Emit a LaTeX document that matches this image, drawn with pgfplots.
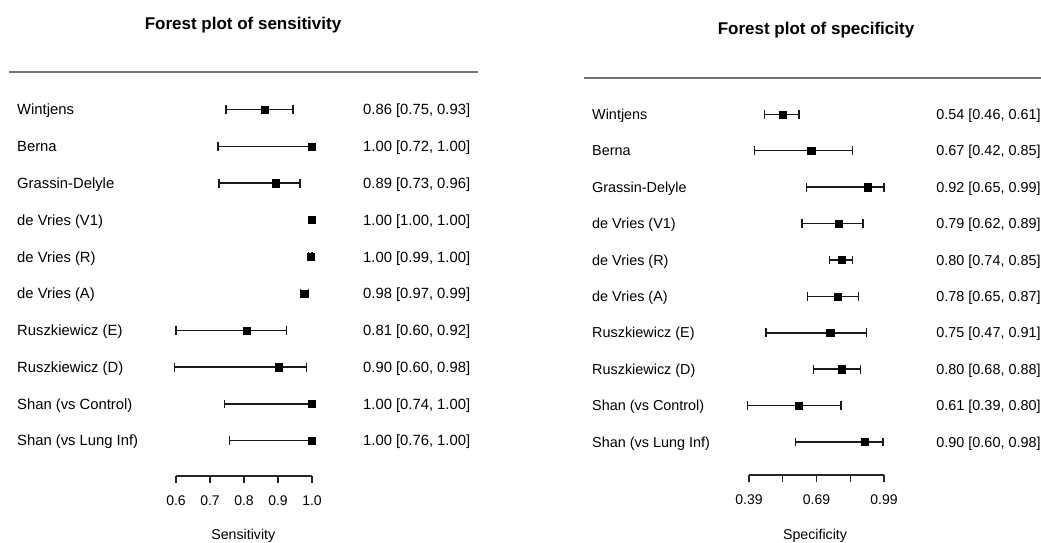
\documentclass[border=0pt]{standalone}
\usepackage{fontspec}
\setmainfont{Liberation Sans}
\usepackage{pgfplots}
\usepackage{pgfplotstable}
\pgfplotsset{compat=1.18}

% row (10 = top), point estimate, lower, upper
\pgfplotstableread{
y  x     lo    hi
10 0.860 0.747 0.944
9  1.000 0.723 1.000
8  0.894 0.727 0.965
7  1.000 0.998 1.000
6  0.996 0.990 1.000
5  0.977 0.966 0.989
4  0.809 0.600 0.925
3  0.901 0.595 0.984
2  1.000 0.742 1.000
1  1.000 0.757 1.000
}\sens

\pgfplotstableread{
y  x     lo    hi
10 0.538 0.459 0.612
9  0.666 0.415 0.849
8  0.919 0.645 0.990
7  0.790 0.626 0.897
6  0.802 0.747 0.849
5  0.783 0.650 0.876
4  0.751 0.466 0.913
3  0.802 0.677 0.885
2  0.611 0.384 0.799
1  0.904 0.596 0.986
}\spec

\pgfplotsset{
  forest/.style={
    scale only axis,
    axis x line=bottom,
    axis y line=none,
    axis line style={-, line width=1.2pt, black!85},
    tick align=outside,
    major tick length=7pt,
    every tick/.style={black!85, line width=1.2pt},
    ytick=\empty,
    ymax=10.5,
    clip=false,
    xticklabel style={font=\fontsize{14}{16}\selectfont, anchor=base, yshift=-22pt},
    /pgf/number format/assume math mode=true,
  },
  fp/.style={
    only marks, mark=square*, mark size=3.6pt, black,
    error bars/.cd, x dir=both, x explicit,
    error bar style={line width=1.5pt, black!90},
    error mark=|,
    error mark options={line width=1.5pt, mark size=4.4pt, black!90},
  },
}

\newcommand{\lab}{\fontsize{14.8}{17}\selectfont}
\newcommand{\labr}{\fontsize{14.4}{17}\selectfont}

\begin{document}
\begin{tikzpicture}[x=1pt,y=1pt]
\useasboundingbox (0,0) rectangle (1041,542);

% ---------------- Sensitivity ----------------
\begin{axis}[forest,
  at={(176pt,66pt)}, anchor=south west,
  width=136pt, height=384.7pt,
  xmin=0.6, xmax=1.0, ymin=0.04,
  xtick={0.6,0.7,0.8,0.9,1.0},
  xticklabels={0.6,0.7,0.8,0.9,1.0},
]
\addplot[fp] table[x=x, y=y,
  x error plus expr=\thisrow{hi}-\thisrow{x},
  x error minus expr=\thisrow{x}-\thisrow{lo}] {\sens};
\begin{scope}[every node/.style={font=\lab, inner sep=0pt, yshift=-5.3pt}]
\node[anchor=base west] at (axis cs:0.1324,10) {Wintjens};
\node[anchor=base west] at (axis cs:0.1324,9) {Berna};
\node[anchor=base west] at (axis cs:0.1324,8) {Grassin-Delyle};
\node[anchor=base west] at (axis cs:0.1324,7) {de Vries (V1)};
\node[anchor=base west] at (axis cs:0.1324,6) {de Vries (R)};
\node[anchor=base west] at (axis cs:0.1324,5) {de Vries (A)};
\node[anchor=base west] at (axis cs:0.1324,4) {Ruszkiewicz (E)};
\node[anchor=base west] at (axis cs:0.1324,3) {Ruszkiewicz (D)};
\node[anchor=base west] at (axis cs:0.1324,2) {Shan (vs Control)};
\node[anchor=base west] at (axis cs:0.1324,1) {Shan (vs Lung Inf)};
\node[anchor=base west] at (axis cs:1.15,10) {0.86 [0.75, 0.93]};
\node[anchor=base west] at (axis cs:1.15,9) {1.00 [0.72, 1.00]};
\node[anchor=base west] at (axis cs:1.15,8) {0.89 [0.73, 0.96]};
\node[anchor=base west] at (axis cs:1.15,7) {1.00 [1.00, 1.00]};
\node[anchor=base west] at (axis cs:1.15,6) {1.00 [0.99, 1.00]};
\node[anchor=base west] at (axis cs:1.15,5) {0.98 [0.97, 0.99]};
\node[anchor=base west] at (axis cs:1.15,4) {0.81 [0.60, 0.92]};
\node[anchor=base west] at (axis cs:1.15,3) {0.90 [0.60, 0.98]};
\node[anchor=base west] at (axis cs:1.15,2) {1.00 [0.74, 1.00]};
\node[anchor=base west] at (axis cs:1.15,1) {1.00 [0.76, 1.00]};
\end{scope}
\end{axis}

% ---------------- Specificity ----------------
\begin{axis}[forest,
  at={(749pt,67pt)}, anchor=south west,
  width=135pt, height=378.9pt,
  xmin=0.39, xmax=0.99, ymin=0.094,
  xtick={0.39,0.54,0.69,0.84,0.99},
  xticklabels={0.39,,0.69,,0.99},
]
\addplot[fp] table[x=x, y=y,
  x error plus expr=\thisrow{hi}-\thisrow{x},
  x error minus expr=\thisrow{x}-\thisrow{lo}] {\spec};
\begin{scope}[every node/.style={font=\labr, inner sep=0pt, yshift=-5.2pt}]
\node[anchor=base west] at (axis cs:-0.3078,10) {Wintjens};
\node[anchor=base west] at (axis cs:-0.3078,9) {Berna};
\node[anchor=base west] at (axis cs:-0.3078,8) {Grassin-Delyle};
\node[anchor=base west] at (axis cs:-0.3078,7) {de Vries (V1)};
\node[anchor=base west] at (axis cs:-0.3078,6) {de Vries (R)};
\node[anchor=base west] at (axis cs:-0.3078,5) {de Vries (A)};
\node[anchor=base west] at (axis cs:-0.3078,4) {Ruszkiewicz (E)};
\node[anchor=base west] at (axis cs:-0.3078,3) {Ruszkiewicz (D)};
\node[anchor=base west] at (axis cs:-0.3078,2) {Shan (vs Control)};
\node[anchor=base west] at (axis cs:-0.3078,1) {Shan (vs Lung Inf)};
\end{scope}
\begin{scope}[every node/.style={font=\labr, inner sep=0pt, yshift=-5.2pt}]
\node[anchor=base east] at (axis cs:1.6867,10) {0.54 [0.46, 0.61]};
\node[anchor=base east] at (axis cs:1.6867,9) {0.67 [0.42, 0.85]};
\node[anchor=base east] at (axis cs:1.6867,8) {0.92 [0.65, 0.99]};
\node[anchor=base east] at (axis cs:1.6867,7) {0.79 [0.62, 0.89]};
\node[anchor=base east] at (axis cs:1.6867,6) {0.80 [0.74, 0.85]};
\node[anchor=base east] at (axis cs:1.6867,5) {0.78 [0.65, 0.87]};
\node[anchor=base east] at (axis cs:1.6867,4) {0.75 [0.47, 0.91]};
\node[anchor=base east] at (axis cs:1.6867,3) {0.80 [0.68, 0.88]};
\node[anchor=base east] at (axis cs:1.6867,2) {0.61 [0.39, 0.80]};
\node[anchor=base east] at (axis cs:1.6867,1) {0.90 [0.60, 0.98]};
\end{scope}
\end{axis}

% titles, rules, axis titles
\node[anchor=base, font=\bfseries\fontsize{17}{20}\selectfont] at (243,512.7) {Forest plot of sensitivity};
\node[anchor=base, font=\bfseries\fontsize{17}{20}\selectfont] at (816,507) {Forest plot of specificity};
\draw[line width=1.8pt, black!55] (9.3,469.7) -- (477.7,469.7);
\draw[line width=1.8pt, black!55] (584,463.7) -- (1041,463.7);
\node[anchor=base, font=\fontsize{14.2}{17}\selectfont] at (243.3,2.5) {Sensitivity};
\node[anchor=base, font=\fontsize{14.2}{17}\selectfont] at (815,2.5) {Specificity};
\end{tikzpicture}
\end{document}
